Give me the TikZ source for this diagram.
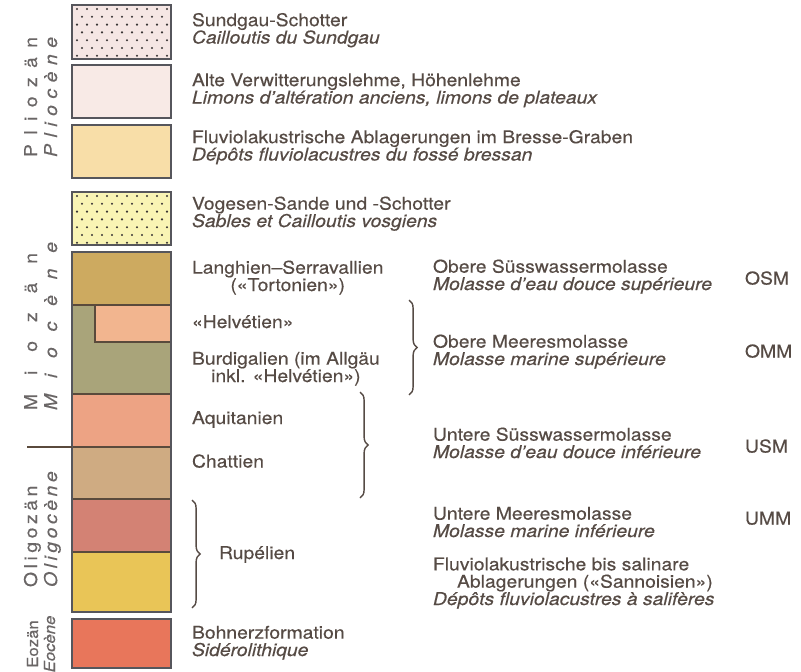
\documentclass[tikz,border=0pt]{standalone}
\usepackage{fontspec}
\setmainfont{TeX Gyre Heros}[FakeStretch=1.1,FakeBold=0.4]
\usetikzlibrary{decorations.pathreplacing}
\definecolor{gcInk}{HTML}{564B45}
\definecolor{gcGrey}{HTML}{6A6666}
\definecolor{gcFrame}{HTML}{56565C}
\definecolor{gcSeam}{HTML}{5A4A3C}
\definecolor{gcDot}{HTML}{3A3535}
\definecolor{gcSundgau}{HTML}{F5E6E4}
\definecolor{gcAlte}{HTML}{F8EAE6}
\definecolor{gcBresse}{HTML}{F8DEA8}
\definecolor{gcVosges}{HTML}{F9F4B4}
\definecolor{gcLanghien}{HTML}{CDAA60}
\definecolor{gcHelvet}{HTML}{F2B58F}
\definecolor{gcBurdig}{HTML}{A9A47A}
\definecolor{gcAquit}{HTML}{EDA384}
\definecolor{gcChatt}{HTML}{CFAB82}
\definecolor{gcRupel}{HTML}{D38274}
\definecolor{gcSannois}{HTML}{E9C557}
\definecolor{gcEocene}{HTML}{E8765B}

\begin{document}
\begin{tikzpicture}[
  x=0.03cm,y=-0.03cm,
  font=\fontsize{15}{14.8}\selectfont,
  every node/.style={
    text=gcInk,inner sep=0pt,outer sep=0pt
  },
  box/.style={
    draw=gcFrame,
    line width=1.4pt
  },
  seam/.style={
    draw=gcSeam,
    line width=0.9pt
  },
  unit/.style={
    anchor=base west,
    align=left
  },
  epoch/.style={
    rotate=90,
    anchor=base,
    text=gcGrey
  },
  abbrev/.style={
    anchor=base west
  },
  bracket/.style={
    draw=gcInk,
    line width=1.2pt,
    decorate,
    decoration={brace,amplitude=7pt}
  }
]
\path[use as bounding box] (0,0) rectangle (801,672);

% Single layer boxes
\foreach \top/\bot/\col in {
  5/59/gcSundgau,
  65/118/gcAlte,
  125/178/gcBresse,
  192/245/gcVosges,
  619/668/gcEocene}{
  \draw[box,fill=\col] (72,\top) rectangle (171,\bot);
}

% Gravel dots
\foreach \top/\bot in {5/59,192/245}{
  \begin{scope}
    \clip (73,\top) rectangle (170,\bot);
    \foreach \r in {0,...,6}
      \foreach \c in {0,...,10}
        \fill[gcDot] ({77+10*\c+5*mod(\r,2)},{\top+4+7.8*\r})
          circle[radius=1pt];
  \end{scope}
  \draw[box] (72,\top) rectangle (171,\bot);
}

% Molasse column
\foreach \top/\bot/\col in {
  252/305/gcLanghien,
  305/394/gcBurdig,
  394/447/gcAquit,
  447/499/gcChatt,
  499/552/gcRupel,
  552/612/gcSannois}{
  \fill[\col] (72,\top) rectangle (171,\bot);
}
\fill[gcHelvet] (95,305) rectangle (171,342);

\foreach \y in {305,394,447,499,552}
  \draw[seam] (72,\y) -- (171,\y);
\draw[seam] (95,305) -- (95,342) -- (171,342);
\draw[box] (72,252) rectangle (171,612);

% Miocene / Oligocene limit
\draw[seam] (27,447) -- (72,447);

% Epochs
\node[epoch] (plioDE) at (37,97)
  {\makebox[3.6cm][s]{P l i o z ä n}};
\node[epoch,font=\fontsize{15}{15}\selectfont\itshape] (plioFR) at (57,97)
  {\makebox[3.6cm][s]{P l i o c è n e}};

\node[epoch] (mioDE) at (37,331.5)
  {\makebox[4.71cm][s]{M i o z ä n}};
\node[epoch,font=\fontsize{15}{15}\selectfont\itshape] (mioFR) at (57,326)
  {\makebox[5.04cm][s]{M i o c è n e}};

\node[epoch] (oligoDE) at (37,537)
  {\makebox[3cm][s]{O l i g o z ä n}};
\node[epoch,font=\fontsize{15}{15}\selectfont\itshape] (oligoFR) at (57,533.5)
  {\makebox[3.21cm][s]{O l i g o c è n e}};

\node[epoch,font=\fontsize{13}{13}\selectfont] (eoDE) at (38,644)
  {Eozän};
\node[epoch,font=\fontsize{13}{13}\selectfont\itshape] (eoFR) at (55,644)
  {Eocène};

% Layer names (base = last line)
\node[unit] (sundgau) at (192,43.5)
  {Sundgau-Schotter\\
   \textit{Cailloutis du Sundgau}};

\node[unit] (alte) at (192,103.5)
  {Alte Verwitterungslehme, Höhenlehme\\
   \textit{Limons d’altération anciens, limons de plateaux}};

\node[unit] (bresse) at (192,160.5)
  {Fluviolakustrische Ablagerungen im Bresse-Graben\\
   \textit{Dépôts fluviolacustres du fossé bressan}};

\node[unit] (vosges) at (192,227)
  {Vogesen-Sande und -Schotter\\
   \textit{Sables et Cailloutis vosgiens}};

\node[unit,align=center] (langhien) at (192,291)
  {Langhien–Serravallien\\
   («Tortonien»)};

\node[unit] (helvet) at (192,328)
  {«Helvétien»};

\node[unit,align=center] (burdig) at (192,382)
  {Burdigalien (im Allgäu\\
   inkl. «Helvétien»)};

\node[unit] (aquit) at (192,424)
  {Aquitanien};

\node[unit] (chatt) at (192,467.5)
  {Chattien};

\node[unit] (rupel) at (219,559)
  {Rupélien};

\node[unit] (bohnerz) at (192,656)
  {Bohnerzformation\\
   \textit{Sidérolithique}};

% Molasse groups
\draw[bracket] (409,300) -- (409,395);
\draw[bracket] (360,392) -- (360,498);
\draw[bracket] (192,500) -- (192,608);

\node[unit] (osmText) at (433,290)
  {Obere Süsswassermolasse\\
   \textit{Molasse d’eau douce supérieure}};

\node[unit] (ommText) at (433,365)
  {Obere Meeresmolasse\\
   \textit{Molasse marine supérieure}};

\node[unit] (usmText) at (433,458)
  {Untere Süsswassermolasse\\
   \textit{Molasse d’eau douce inférieure}};

\node[unit] (ummText) at (433,537)
  {Untere Meeresmolasse\\
   \textit{Molasse marine inférieure}};

\node[unit] (sannois) at (433,605)
  {Fluviolakustrische bis salinare\\
   \hspace*{0.72cm}Ablagerungen («Sannoisien»)\\
   \textit{Dépôts fluviolacustres à salifères}};

\node[abbrev] (osm) at (745,284.5) {OSM};
\node[abbrev] (omm) at (745,357.5) {OMM};
\node[abbrev] (usm) at (745,452.5) {USM};
\node[abbrev] (umm) at (745,524.5) {UMM};

\end{tikzpicture}
\end{document}
